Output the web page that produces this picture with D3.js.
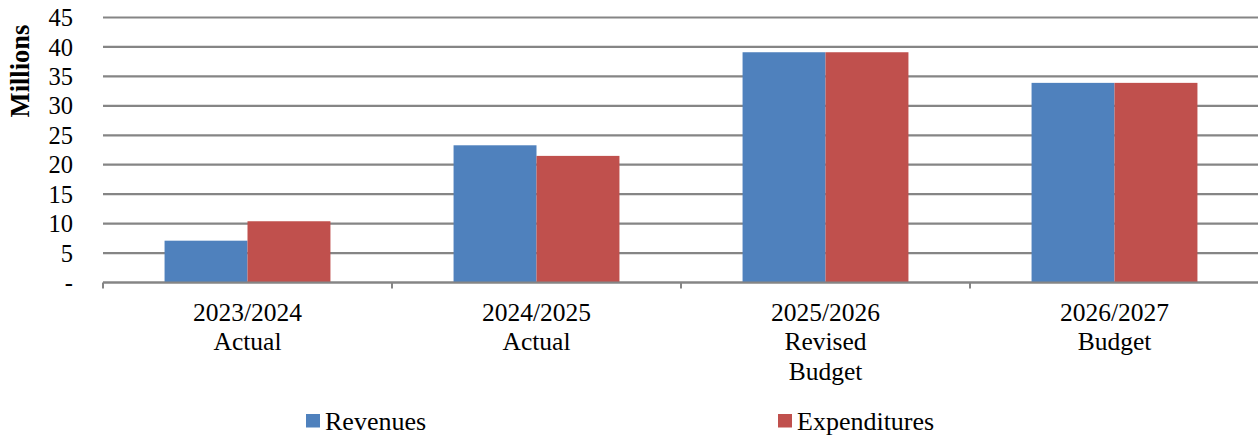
<!DOCTYPE html>
<html>
<head>
<meta charset="utf-8">
<script src="https://cdn.jsdelivr.net/npm/d3@7"></script>
<style>
  html, body { margin: 0; padding: 0; background: #fff; }
  svg { display: block; }
  text { font-family: "Liberation Serif", "Times New Roman", serif; fill: #000; }
</style>
</head>
<body>
<svg id="chart" width="1258" height="438"></svg>
<script>
// Fiscal years (multi-line labels)
const categories = ["2023/2024|Actual", "2024/2025|Actual", "2025/2026|Revised|Budget", "2026/2027|Budget"];
const seriesNames = ["Revenues", "Expenditures"];
const revenues = [7.1, 23.3, 39.1, 33.9];
const expenditures = [10.4, 21.5, 39.1, 33.9];
const yTicks = [0, 5, 10, 15, 20, 25, 30, 35, 40, 45];
const colors = ["#4F81BD", "#C0504D"];

const svg = d3.select("#chart");
const plotLeft = 103, plotRight = 1259, plotTop = 17.5, plotBottom = 282.5;

const y = d3.scaleLinear().domain([0, 45]).range([plotBottom, plotTop]);
const x0 = d3.scaleBand().domain(categories).range([plotLeft, plotRight]).padding(0);
const bw = x0.bandwidth();
const gap = bw * 0.426;
const x1 = d3.scaleBand().domain(seriesNames).range([gap / 2, bw - gap / 2]).padding(0);

// Horizontal gridlines
svg.append("g")
  .selectAll("line")
  .data(yTicks)
  .join("line")
  .attr("x1", plotLeft).attr("x2", plotRight)
  .attr("y1", d => y(d)).attr("y2", d => y(d))
  .attr("stroke", "#858585").attr("stroke-width", 2.2);

// Y tick labels
svg.append("g")
  .selectAll("text")
  .data(yTicks)
  .join("text")
  .attr("x", 73)
  .attr("y", d => y(d))
  .attr("dy", "0.35em")
  .attr("text-anchor", "end")
  .style("font-size", "24.5px")
  .text(d => d === 0 ? "-" : d);

// Y axis title
svg.append("text")
  .attr("transform", "translate(29,71) rotate(-90)")
  .attr("text-anchor", "middle")
  .style("font-size", "26.5px")
  .style("font-weight", "bold")
  .text("Millions");

// Bars
const rows = categories.map((c, i) => ({ cat: c, values: [revenues[i], expenditures[i]] }));
const groups = svg.append("g")
  .selectAll("g")
  .data(rows)
  .join("g")
  .attr("transform", d => `translate(${x0(d.cat)},0)`);

groups.selectAll("rect")
  .data(d => d.values.map((v, j) => ({ name: seriesNames[j], value: v, color: colors[j] })))
  .join("rect")
  .attr("x", d => x1(d.name))
  .attr("width", x1.bandwidth())
  .attr("y", d => y(d.value))
  .attr("height", d => y(0) - y(d.value))
  .attr("fill", d => d.color);

// Category axis baseline and ticks
svg.append("line")
  .attr("x1", plotLeft).attr("x2", plotRight)
  .attr("y1", plotBottom).attr("y2", plotBottom)
  .attr("stroke", "#858585").attr("stroke-width", 2.2);

const boundaries = categories.map(c => x0(c)).concat([plotRight]);
svg.append("g")
  .selectAll("line")
  .data(boundaries)
  .join("line")
  .attr("x1", d => d).attr("x2", d => d)
  .attr("y1", plotBottom).attr("y2", plotBottom + 6)
  .attr("stroke", "#858585").attr("stroke-width", 2);

// Category labels
const labels = svg.append("g")
  .selectAll("text")
  .data(categories)
  .join("text")
  .attr("text-anchor", "middle")
  .style("font-size", "25.5px");

labels.selectAll("tspan")
  .data(d => d.split("|").map(t => ({ t, cx: x0(d) + bw / 2 })))
  .join("tspan")
  .attr("x", d => d.cx)
  .attr("y", (d, i) => 320.5 + i * 29.5)
  .text(d => d.t);

// Legend
const legendPos = [306, 778];
const legend = svg.append("g")
  .selectAll("g")
  .data(seriesNames)
  .join("g")
  .attr("transform", (d, i) => `translate(${legendPos[i]},0)`);
legend.append("rect")
  .attr("x", 0).attr("y", 414)
  .attr("width", 14).attr("height", 13.5)
  .attr("fill", (d, i) => colors[i]);
legend.append("text")
  .attr("x", 19).attr("y", 429.5)
  .style("font-size", "26px")
  .text(d => d);
</script>
</body>
</html>
